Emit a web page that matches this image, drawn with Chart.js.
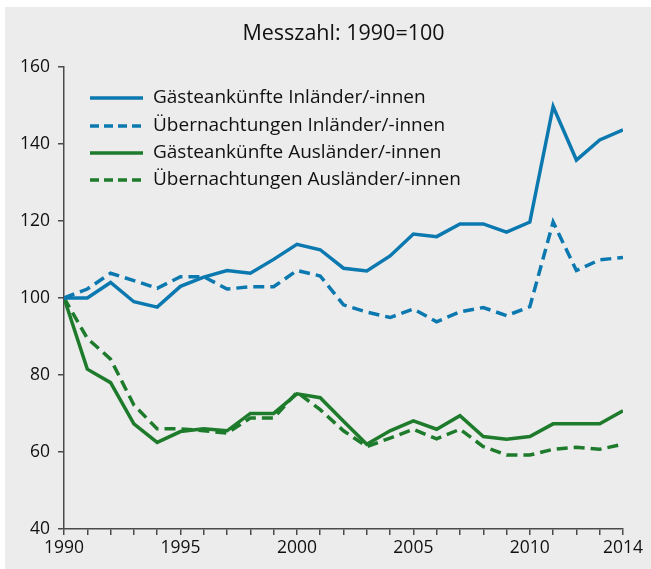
<!DOCTYPE html>
<html>
<head>
<meta charset="utf-8">
<script src="https://cdn.jsdelivr.net/npm/chart.js@4.4.1/dist/chart.umd.min.js"></script>
<style>
  html, body { margin: 0; padding: 0; background: #ffffff; }
  #wrap { width: 651px; height: 569px; position: relative; }
</style>
</head>
<body>
<div id="wrap"><canvas id="c" width="651" height="569"></canvas></div>
<script>
// ---- data ----
const years = [1990,1991,1992,1993,1994,1995,1996,1997,1998,1999,2000,2001,2002,2003,2004,2005,2006,2007,2008,2009,2010,2011,2012,2013,2014];
const gaesteInland   = [100,100,104,99,97.6,103,105.4,107.1,106.4,110,113.9,112.5,107.7,107,110.9,116.6,115.9,119.2,119.2,117.1,119.7,149.7,135.8,141,143.6];
const uebernInland   = [100,102.3,106.4,104.5,102.5,105.5,105.5,102.3,102.9,102.9,107.1,105.7,98.2,96.3,94.9,97.1,93.8,96.4,97.5,95.4,97.7,119.7,107.1,109.9,110.5];
const gaesteAusland  = [100,81.5,78,67.3,62.5,65.3,66,65.5,70,70,75.1,74.1,68,62,65.5,68.1,65.9,69.4,64,63.3,64,67.3,67.3,67.3,70.7];
const uebernAusland  = [100,89.5,84.1,72.2,66,66,65.5,64.9,68.8,68.8,75.5,71,65.5,61.4,63.6,65.9,63.4,65.9,61.4,59.2,59.2,60.7,61.2,60.7,62];
const seriesNames = ["Gästeankünfte Inländer/-innen","Übernachtungen Inländer/-innen","Gästeankünfte Ausländer/-innen","Übernachtungen Ausländer/-innen"];
const xTickLabels = [1990,1995,2000,2005,2010,2014];
const yTicks = [40,60,80,100,120,140,160];
const titleText = "Messzahl: 1990=100";

const BLUE = "#0b79b0";
const GREEN = "#1e7b2c";
const AXIS = "#4a4a4a";
const TEXT = "#111111";
const FONT = "'Open Sans'";

function pts(arr){ return arr.map((v,i)=>({x: years[i], y: v})); }

const bgPlugin = {
  id: 'bg',
  beforeDraw(chart){
    const ctx = chart.ctx;
    ctx.save();
    ctx.fillStyle = '#ffffff';
    ctx.fillRect(0,0,chart.width,chart.height);
    ctx.fillStyle = '#ececec';
    ctx.fillRect(5,7,chart.width-5,chart.height-7);
    ctx.restore();
  }
};

const legendPlugin = {
  id: 'innerLegend',
  afterDatasetsDraw(chart){
    const ctx = chart.ctx;
    const x0 = 90, x1 = 143, tx = 153;
    const rows = [98, 126, 153, 180];
    ctx.save();
    chart.data.datasets.forEach((ds,i)=>{
      const y = rows[i];
      ctx.beginPath();
      ctx.strokeStyle = ds.borderColor;
      ctx.lineWidth = ds.borderWidth;
      ctx.setLineDash(ds.borderDash && ds.borderDash.length ? [9,5] : []);
      ctx.moveTo(x0,y); ctx.lineTo(x1,y);
      ctx.stroke();
      ctx.setLineDash([]);
      ctx.fillStyle = TEXT;
      ctx.font = "19px " + FONT;
      ctx.textBaseline = 'middle';
      ctx.textAlign = 'left';
      ctx.fillText(ds.label, tx, y);
    });
    ctx.restore();
  }
};

const mk = (label, data, color, dash) => ({
  label, data: pts(data), borderColor: color, backgroundColor: color,
  borderWidth: 3.5, borderDash: dash, pointRadius: 0, tension: 0,
  borderJoinStyle: 'miter', borderCapStyle: 'butt', fill: false
});

new Chart(document.getElementById('c'), {
  type: 'line',
  data: {
    datasets: [
      mk(seriesNames[0], gaesteInland, BLUE, []),
      mk(seriesNames[1], uebernInland, BLUE, [11,6]),
      mk(seriesNames[2], gaesteAusland, GREEN, []),
      mk(seriesNames[3], uebernAusland, GREEN, [11,6])
    ]
  },
  options: {
    responsive: false,
    devicePixelRatio: 1,
    animation: false,
    layout: { padding: { left: 0, right: 28, top: 0, bottom: 0 } },
    plugins: {
      legend: { display: false },
      tooltip: { enabled: false },
      title: {
        display: true, text: titleText, fullSize: false,
        color: TEXT, font: { family: FONT, size: 21.5, weight: 'normal' },
        padding: { top: 21, bottom: 20 }
      }
    },
    scales: {
      x: {
        type: 'linear', min: 1990, max: 2014,
        afterFit(s){ s.height = 40; },
        afterBuildTicks(s){ s.ticks = years.map(v=>({value:v})); },
        ticks: {
          autoSkip: false, maxRotation: 0, padding: 3,
          color: TEXT, font: { family: FONT, size: 17.5 },
          callback(v){ return xTickLabels.includes(v) ? String(v) : ''; }
        },
        grid: { display: true, drawOnChartArea: false, drawTicks: true, tickLength: 6, color: AXIS, lineWidth: 1.5 },
        border: { display: true, color: AXIS, width: 1.5 }
      },
      y: {
        min: 40, max: 160,
        afterFit(s){ s.width = 64; },
        afterBuildTicks(s){ s.ticks = yTicks.map(v=>({value:v})); },
        ticks: {
          padding: 8, color: TEXT, font: { family: FONT, size: 17.5 },
          callback(v){ return String(v); }
        },
        grid: { display: true, drawOnChartArea: false, drawTicks: true, tickLength: 6, color: AXIS, lineWidth: 1.5 },
        border: { display: true, color: AXIS, width: 1.5 }
      }
    }
  },
  plugins: [bgPlugin, legendPlugin]
});
</script>
</body>
</html>
